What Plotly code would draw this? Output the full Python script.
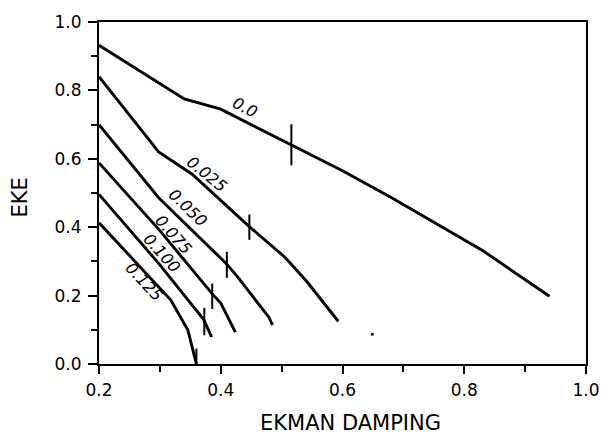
import math
import plotly.graph_objects as go

# ---- data ----
labels = ["0.0", "0.025", "0.050", "0.075", "0.100", "0.125"]

x_00 = [0.2, 0.30, 0.34, 0.40, 0.45, 0.516, 0.60, 0.68, 0.83, 0.94]
y_00 = [0.932, 0.818, 0.775, 0.745, 0.70, 0.641, 0.565, 0.487, 0.332, 0.198]

x_025 = [0.2, 0.298, 0.353, 0.446, 0.505, 0.541, 0.593]
y_025 = [0.84, 0.62, 0.555, 0.403, 0.313, 0.242, 0.125]

x_050 = [0.2, 0.298, 0.41, 0.428, 0.479, 0.485]
y_050 = [0.70, 0.486, 0.292, 0.254, 0.137, 0.114]

x_075 = [0.2, 0.30, 0.386, 0.40, 0.424]
y_075 = [0.588, 0.39, 0.205, 0.178, 0.093]

x_100 = [0.2, 0.30, 0.372, 0.385]
y_100 = [0.496, 0.29, 0.13, 0.079]

x_125 = [0.2, 0.318, 0.346, 0.36]
y_125 = [0.413, 0.187, 0.099, 0.0]

# vertical marks on each curve (x, centre y, half length)
mark_x = [0.516, 0.447, 0.41, 0.386, 0.373, 0.36]
mark_y = [0.641, 0.40, 0.29, 0.198, 0.124, 0.01]
mark_half = [0.06, 0.037, 0.038, 0.037, 0.04, 0.035]

# curve labels (x, y, angle, extra offset away from the curve in px)
label_x = [0.439, 0.375, 0.341, 0.320, 0.304, 0.271]
label_y = [0.746, 0.548, 0.449, 0.376, 0.324, 0.236]
label_angle = [27, 39, 44, 49, 48, 47]
label_lift = [1, 3, 4, 2, 0, 2]

speck_x = [0.649]
speck_y = [0.087]

x_ticks = [0.2, 0.4, 0.6, 0.8, 1.0]
y_ticks = [0.0, 0.2, 0.4, 0.6, 0.8, 1.0]

curves = [(x_00, y_00), (x_025, y_025), (x_050, y_050),
          (x_075, y_075), (x_100, y_100), (x_125, y_125)]

fig = go.Figure()
for (xs, ys), lab in zip(curves, labels):
    fig.add_trace(go.Scatter(x=xs, y=ys, mode="lines",
                             line=dict(color="black", width=2.9),
                             name=lab, hoverinfo="skip"))

mx, my = [], []
for xv, yv, h in zip(mark_x, mark_y, mark_half):
    mx += [xv, xv, None]
    my += [yv - h, yv + h, None]
fig.add_trace(go.Scatter(x=mx, y=my, mode="lines",
                         line=dict(color="black", width=2), hoverinfo="skip"))

fig.add_trace(go.Scatter(x=speck_x, y=speck_y, mode="markers",
                         marker=dict(color="black", size=3), hoverinfo="skip"))

font_fam = "DejaVu Sans"
for lab, xv, yv, ang, lift in zip(labels, label_x, label_y, label_angle, label_lift):
    a = math.radians(ang)
    fig.add_annotation(x=xv, y=yv, xref="x", yref="y", text=f"<i>{lab}</i>",
                       showarrow=False, textangle=ang,
                       xanchor="center", yanchor="middle",
                       xshift=lift * math.sin(a), yshift=lift * math.cos(a),
                       font=dict(family=font_fam, size=16, color="black"))

fig.add_annotation(x=0.517, y=-0.172, xref="paper", yref="paper",
                   xanchor="center", yanchor="middle",
                   text="EKMAN DAMPING", showarrow=False,
                   font=dict(family=font_fam, size=21, color="black"))
fig.add_annotation(x=-0.162, y=0.487, xref="paper", yref="paper",
                   xanchor="center", yanchor="middle",
                   text="EKE", showarrow=False, textangle=-90,
                   font=dict(family=font_fam, size=21, color="black"))

axis_common = dict(showgrid=False, zeroline=False, showline=True, mirror=True,
                   linecolor="black", linewidth=2, ticks="outside",
                   tickcolor="black", tickwidth=1.5,
                   tickfont=dict(family=font_fam, size=17, color="black"))

fig.update_xaxes(range=[0.2, 1.0], tickvals=x_ticks,
                 ticktext=[f"{v:.1f}" for v in x_ticks], ticklen=8,
                 ticklabelstandoff=2,
                 minor=dict(dtick=0.1, ticklen=6, tickcolor="black", tickwidth=1.5,
                            ticks="outside", showgrid=False),
                 **axis_common)
fig.update_yaxes(range=[0.0, 1.0], tickvals=y_ticks,
                 ticktext=[f"{v:.1f}" for v in y_ticks], ticklen=9,
                 ticklabelstandoff=3,
                 minor=dict(dtick=0.1, ticklen=6, tickcolor="black", tickwidth=1.5,
                            ticks="outside", showgrid=False),
                 **axis_common)

fig.update_layout(width=612, height=438, autosize=False,
                  margin=dict(l=99, r=14, t=21, b=74),
                  paper_bgcolor="white", plot_bgcolor="white",
                  showlegend=False)

fig.write_html("out.html")
